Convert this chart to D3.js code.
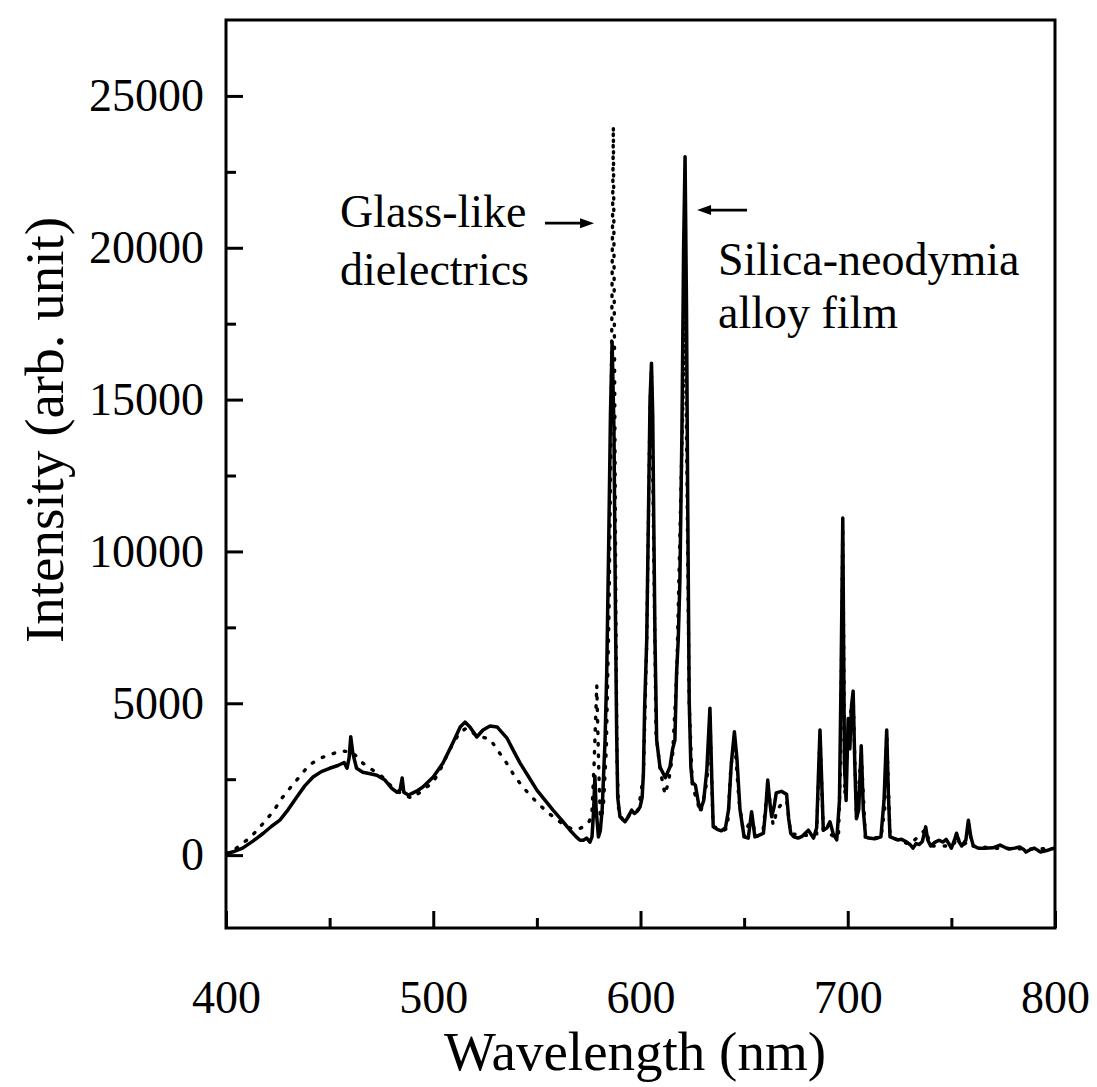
<!DOCTYPE html>
<html><head><meta charset="utf-8">
<script src="https://cdn.jsdelivr.net/npm/d3@7"></script>
<style>
html,body{margin:0;padding:0;background:#fff;}
svg{display:block;}
text{font-family:"Liberation Serif","Times New Roman",serif;fill:#000;}
</style>
</head><body>
<svg id="chart" width="1097" height="1087"></svg>
<script>
const xMajorTicks = [400, 500, 600, 700, 800];
const xMinorTicks = [450, 550, 650, 750];
const yMajorTicks = [0, 5000, 10000, 15000, 20000, 25000];
const yMinorTicks = [2500, 7500, 12500, 17500, 22500];
const xTitle = "Wavelength (nm)";
const yTitle = "Intensity (arb. unit)";
const glassLabel = ["Glass-like", "dielectrics"];
const alloyLabel = ["Silica-neodymia", "alloy film"];

// Silica-neodymia alloy film (solid): [wavelength nm, intensity]
const alloyFilm = [
[400,50],[404,120],[408,230],[413,460],[418,720],[422,950],[426,1150],[430,1500],[434,1900],[438,2280],
[442,2570],[446,2750],[450,2860],[454,2950],[457,3050],[458.4,2860],[459.4,3200],[460.2,3900],[461.2,3350],[463,2860],
[466,2730],[469,2690],[472.8,2630],[476.7,2470],[480,2200],[482.5,2070],[484,2150],[485,2540],[485.8,2070],[488,1980],
[490,2040],[492.5,2130],[495,2240],[500,2570],[504.7,3030],[507,3350],[509.6,3720],[513,4220],[515.3,4380],[517.7,4220],
[521,3890],[524,4120],[527.4,4250],[530.8,4220],[533,4050],[535.6,3850],[539,3400],[541.9,3030],[546,2580],[550,2140],
[554,1800],[557.8,1480],[562,1150],[566,820],[569,600],[570.8,490],[572.4,490],[574,560],[575.6,430],[576.6,600],
[577.4,1500],[578,2600],[578.6,1500],[579.7,600],[580.6,800],[581.5,1500],[582.9,3790],[583.7,6000],[584.6,10000],[585.5,14500],
[586.3,16900],[587.2,14000],[587.9,8000],[588.5,4000],[589,1900],[590.1,1260],[592.5,1100],[594,1250],[595.7,1480],[597,1370],
[598.5,1450],[599.8,1590],[600.8,1900],[601.4,2690],[602,4880],[603,7080],[603.8,11000],[604.6,15000],[605.3,16200],[605.9,14500],
[606.4,11000],[607,7080],[607.8,3790],[609.4,2900],[612,2550],[614.2,2900],[615.5,3500],[616.6,3790],[617.4,6000],[618.2,7080],
[619,9000],[620,14000],[620.8,20000],[621.5,23000],[622.2,18000],[622.8,11400],[623.5,5100],[624.3,2900],[625,2400],[626.5,2300],
[628,1700],[629,1500],[630.5,1800],[632,2800],[633.5,4840],[634.4,2500],[635.1,930],[637,850],[639,800],[641,900],
[642.5,1500],[643.8,3000],[645.3,4060],[646.5,3200],[648,1500],[650,600],[652,560],[653.6,1430],[655.2,600],[657,650],
[659.3,720],[660.4,1500],[661.4,2470],[662.3,1800],[663.3,1260],[664.5,1600],[665.5,2050],[668,2100],[670.5,2000],[671.5,1200],
[672.5,720],[674,600],[676,560],[678,620],[681,820],[683.5,560],[685,900],[686.6,4120],[687.4,2500],[688.2,820],
[690,900],[691.4,1100],[693,700],[694.7,500],[696,1800],[696.8,6000],[697.6,11100],[698.4,3000],[699.2,1800],[700.2,4500],
[701,3500],[701.8,4900],[702.6,5400],[703.4,3000],[704.2,1200],[705.3,1500],[706.5,3600],[707.5,1500],[708.6,600],[710,560],
[713,540],[716,600],[717.5,1800],[718.8,4120],[719.6,2000],[720.4,600],[722,560],[724,500],[726,520],[728,450],
[730,350],[731.5,230],[733,380],[734.5,350],[736,450],[737.6,930],[738.6,500],[740,300],[742,420],[744,490],
[746,430],[747.5,520],[749,350],[750,230],[751.5,500],[752.5,720],[753.6,450],[755,300],[757,500],[758.2,1150],
[759.4,600],[760.6,300],[763,230],[766,230],[770,240],[773.5,330],[776,250],[778,200],[780.5,230],[783,270],
[785,180],[786,100],[788,180],[790,230],[793,100],[796,150],[798,200],[800,230]
];

// Glass-like dielectrics (dotted): [wavelength nm, intensity]
const glassDielectrics = [
[400,50],[404,180],[408,380],[412.4,630],[417.2,990],[422.7,1430],[426.9,1870],[431.4,2250],[435.7,2600],[440,2960],
[445.4,3190],[451,3330],[455.8,3430],[460.6,3400],[463,3250],[466,3030],[472,2740],[476,2550],[480,2250],[485,2000],
[490,1870],[495,2150],[500,2400],[504,2900],[507,3350],[510.5,3790],[513,4050],[516,4180],[518.5,4050],[521,3950],
[524,3880],[527.4,3820],[531,3460],[535.4,3030],[539.4,2580],[543.8,2200],[549,1810],[554.7,1430],[561,1100],[566.8,860],
[570,850],[572.3,930],[574.8,1050],[576.5,1300],[577.6,3000],[578.9,5600],[579.8,3000],[580.6,1200],[582,1500],[583.5,3500],
[584.8,8000],[585.8,14000],[586.4,20000],[586.9,24000],[587.5,16000],[588.1,8000],[588.7,3000],[589.5,1400],[592,1100],[595.5,1400],
[599,1500],[601.4,2600],[603,7000],[604.6,14800],[605.3,16000],[606.2,11000],[607.5,4000],[609.5,2800],[611.8,2000],[613.5,2400],
[615.5,3300],[617.5,6000],[619.5,12000],[621.5,18000],[622.5,12000],[623.5,5000],[625,2300],[629,1400],[631.5,2200],[632.5,2800],
[633.5,4600],[635,950],[640,800],[642,900],[643.5,2800],[645.3,3900],[647.5,1800],[650,600],[653.6,1300],[655.5,600],
[659,700],[661.4,2300],[664,990],[666,1500],[668,1680],[670.5,1800],[672.5,700],[680,650],[685,700],[686.6,4000],
[688.2,800],[694,600],[695.5,600],[696.5,3000],[697.6,10800],[698.6,2000],[700.5,4300],[702.6,5200],[704.2,1200],[706.5,3400],
[708.5,600],[716,560],[717.8,1500],[718.8,4000],[720.4,600],[730,350],[737.6,850],[740,300],[750,300],[751.5,400],
[752.5,650],[755,300],[757,400],[758.2,1050],[760,300],[770,230],[790,200],[800,220]
];

// annotation anchors in data units: [wavelength, intensity]
const glassTextPos = [[455, 20680], [455, 18770]];
const alloyTextPos = [[637.4, 19100], [637.4, 17350]];
const glassArrow = [[553.9, 20810], [577.6, 20810]];
const alloyArrow = [[651.4, 21240], [627.3, 21240]];

const svg = d3.select("#chart");
svg.append("rect").attr("width", 1097).attr("height", 1087).attr("fill", "#fff");

const x = d3.scaleLinear().domain([400, 800]).range([226, 1055]);
const y = d3.scaleLinear().domain([-2400, 27500]).range([928, 20]);

const fontFam = '"Liberation Serif","Times New Roman",serif';

// minor ticks
svg.append("g").attr("transform", "translate(0,928)")
  .call(d3.axisBottom(x).tickValues(xMinorTicks).tickSize(-10).tickFormat(""))
  .call(g => g.select(".domain").remove())
  .call(g => g.selectAll("line").attr("stroke", "#000").attr("stroke-width", 3));
svg.append("g").attr("transform", "translate(226,0)")
  .call(d3.axisLeft(y).tickValues(yMinorTicks).tickSize(-10).tickFormat(""))
  .call(g => g.select(".domain").remove())
  .call(g => g.selectAll("line").attr("stroke", "#000").attr("stroke-width", 3));

// major ticks + labels
svg.append("g").attr("transform", "translate(0,928)")
  .call(d3.axisBottom(x).tickValues(xMajorTicks).tickSize(-17).tickPadding(52).tickFormat(d3.format("d")))
  .call(g => g.select(".domain").remove())
  .call(g => g.selectAll("line").attr("stroke", "#000").attr("stroke-width", 3))
  .attr("font-family", fontFam).attr("font-size", 46)
  .call(g => g.selectAll("text").attr("fill", "#000"));
svg.append("g").attr("transform", "translate(226,0)")
  .call(d3.axisLeft(y).tickValues(yMajorTicks).tickSize(-17).tickPadding(22).tickFormat(d3.format("d")))
  .call(g => g.select(".domain").remove())
  .call(g => g.selectAll("line").attr("stroke", "#000").attr("stroke-width", 3))
  .attr("font-family", fontFam).attr("font-size", 46)
  .call(g => g.selectAll("text").attr("fill", "#000"));

// clip
svg.append("clipPath").attr("id", "plotclip").append("rect")
  .attr("x", 226).attr("y", 20).attr("width", 829).attr("height", 908);

const line = d3.line().x(d => x(d[0])).y(d => y(d[1])).curve(d3.curveLinear);

svg.append("path").datum(glassDielectrics)
  .attr("clip-path", "url(#plotclip)")
  .attr("d", line).attr("fill", "none").attr("stroke", "#000")
  .attr("stroke-width", 3.4).attr("stroke-dasharray", "1.5,10").attr("stroke-linecap", "round");

svg.append("path").datum(alloyFilm)
  .attr("clip-path", "url(#plotclip)")
  .attr("d", line).attr("fill", "none").attr("stroke", "#000")
  .attr("stroke-width", 3.5).attr("stroke-linejoin", "round");

// frame
svg.append("rect").attr("x", x(400)).attr("y", y(27500))
  .attr("width", x(800) - x(400)).attr("height", y(-2400) - y(27500))
  .attr("fill", "none").attr("stroke", "#000").attr("stroke-width", 3);

// titles
svg.append("text").attr("x", 635).attr("y", 1070).attr("text-anchor", "middle")
  .attr("font-size", 55).text(xTitle);
svg.append("text").attr("transform", "translate(63,430) rotate(-90)").attr("text-anchor", "middle")
  .attr("font-size", 55).text(yTitle);

// annotations
glassLabel.forEach((t, i) => {
  svg.append("text").attr("x", x(glassTextPos[i][0])).attr("y", y(glassTextPos[i][1]))
    .attr("font-size", 46).text(t);
});
alloyLabel.forEach((t, i) => {
  svg.append("text").attr("x", x(alloyTextPos[i][0])).attr("y", y(alloyTextPos[i][1]))
    .attr("font-size", 46).text(t);
});

function arrow(a) {
  const x1 = x(a[0][0]), y1 = y(a[0][1]), x2 = x(a[1][0]), y2 = y(a[1][1]);
  const dir = Math.sign(x2 - x1);
  svg.append("line").attr("x1", x1).attr("y1", y1).attr("x2", x2 - dir * 8).attr("y2", y2)
    .attr("stroke", "#000").attr("stroke-width", 2.8);
  svg.append("path")
    .attr("d", `M${x2},${y2} L${x2 - dir * 14},${y2 - 5} L${x2 - dir * 14},${y2 + 5} Z`)
    .attr("fill", "#000");
}
arrow(glassArrow);
arrow(alloyArrow);
</script>
</body></html>
